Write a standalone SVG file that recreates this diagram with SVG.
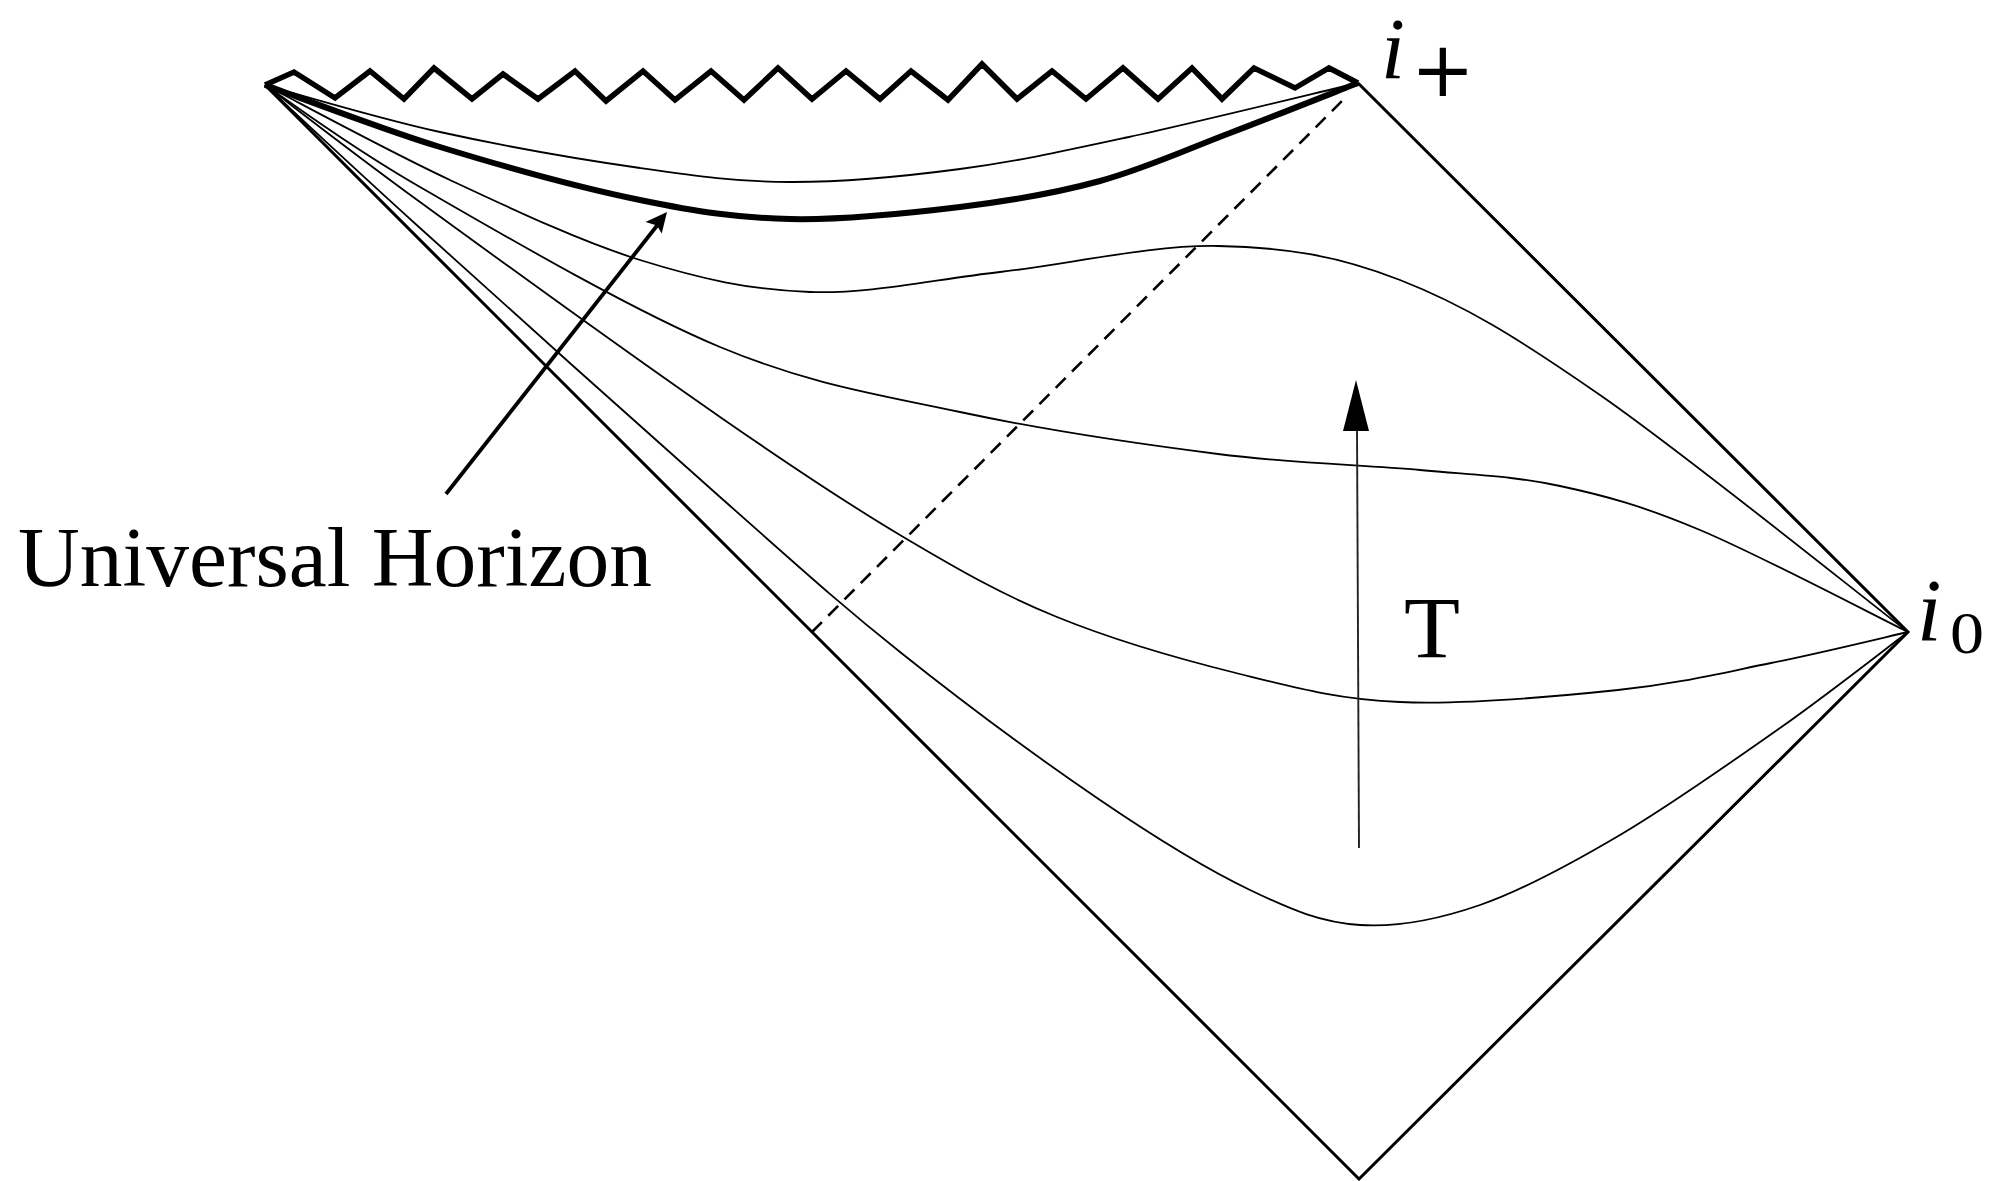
<svg xmlns="http://www.w3.org/2000/svg" width="1996" height="1181" viewBox="0 0 1996 1181">
<style>
.edge{fill:none;stroke:#000;stroke-width:3;stroke-linejoin:miter}
.zig{fill:none;stroke:#000;stroke-width:5.5;stroke-linejoin:miter}
.slice{fill:none;stroke:#000;stroke-width:1.8}
.uh{fill:none;stroke:#000;stroke-width:6}
.dash{fill:none;stroke:#000;stroke-width:2.6;stroke-dasharray:14 9}
.lbl{font-family:"Liberation Serif","Times New Roman",serif;fill:#000}
.math{font-family:"Liberation Serif","Times New Roman",serif;font-style:italic;fill:#000}
.sym{font-family:"DejaVu Sans",sans-serif;fill:#000}
</style>
<rect x="0" y="0" width="1996" height="1181" fill="#fff"/>

<g id="penrose-boundary">
<path class="edge" d="M1358,83 L1908,632 L1359,1179 L265,85"/>
</g>

<g id="singularity">
<polyline class="zig" points="265,85 294,72 335,98 370,71 404,99 434,68 472,99 503,74 538,99 575,71 606,101 643,71 675,100 711,71 744,100 778,68 812,99 846,71 880,99 911,71 948,100 982,64 1017,99 1052,71 1086,99 1123,68 1158,99 1192,68 1222,99 1254,68 1295,88 1329,68 1358,83"/>
</g>

<g id="killing-horizon">
<path class="dash" d="M812,632 L1346,97"/>
</g>

<g id="slices">
<path id="slice1" class="slice" d="M265,85 C294,93 377.5,118.2 440,132 S581.7,159.7 640,168 S736.7,181.8 790,182 S903.5,176.5 960,169 S1062.7,151.3 1129,137 S1319.8,92 1358,83"/>
<path id="universal-horizon" class="uh" d="M265,85 C294.2,95.3 377.5,127.8 440,147 S581.7,188 640,200 S736.7,217.8 790,219 S908.3,213.3 960,207 S1055,193.3 1100,181 S1187,149.3 1230,133 S1336.7,91.3 1358,83"/>
<path id="slice3" class="slice" d="M265,85 C295.8,100.8 387.5,150.8 450,180 S580,241.3 640,260 S750,290 810,292 S932,279.7 1000,272 S1151.3,244.7 1218,246 S1336.3,255.2 1400,280 S1515.3,336.3 1600,395 S1856.7,592.5 1908,632"/>
<path id="slice4" class="slice" d="M265,85 C290.8,102 344.2,143.3 420,187 S630,309.5 720,347 S877,394.2 960,412 S1141.3,444.3 1218,454 S1363,464.7 1420,470 S1513.3,476 1560,486 S1642,505.7 1700,530 S1873.3,615 1908,632"/>
<path id="slice5" class="slice" d="M265,85 C290.8,104.5 344.2,146.7 420,202 S639.2,361 720,417 S848.8,504.7 905,538 S1001.8,594.5 1057,617 S1178.8,658.8 1236,673 S1336.3,699.2 1400,702 S1556.2,696.5 1618,690 S1722.7,672.7 1771,663 S1885.2,637.2 1908,632"/>
<path id="slice6" class="slice" d="M265,85 C290.8,108.8 344.2,159.3 420,228 S640,426.3 720,497 S836.7,601.5 900,652 S1041.7,760.3 1100,800 S1206.7,869.2 1250,890 S1321.7,922.5 1360,925 S1436.7,920 1480,905 S1570,864.5 1620,835 S1732,761.8 1780,728 S1886.7,648 1908,632"/>
</g>

<g id="connectors">
<g id="uh-pointer">
<line x1="446" y1="494" x2="657.5" y2="225" stroke="#000" stroke-width="3.8"/>
<polygon points="667,212 661.7,233.5 657,225.5 645.5,222" fill="#000"/>
</g>
<g id="time-arrow">
<line x1="1359" y1="848" x2="1357" y2="428" stroke="#222" stroke-width="1.9"/>
<polygon points="1356,380 1369,431 1343,431" fill="#000"/>
</g>
</g>

<g id="labels">
<text id="label-uh" class="lbl" x="18" y="586" font-size="84" textLength="634" lengthAdjust="spacingAndGlyphs">Universal Horizon</text>
<text id="label-T" class="lbl" x="1404" y="657" font-size="86" textLength="56" lengthAdjust="spacingAndGlyphs">T</text>
<g id="label-iplus">
<text class="math" x="1381" y="78" font-size="86">i</text>
<text class="sym" x="1411" y="96" font-size="76">+</text>
</g>
<g id="label-i0">
<text class="math" x="1917" y="640" font-size="88">i</text>
<text class="lbl" x="1950" y="653" font-size="60" textLength="34" lengthAdjust="spacingAndGlyphs">0</text>
</g>
</g>
</svg>
